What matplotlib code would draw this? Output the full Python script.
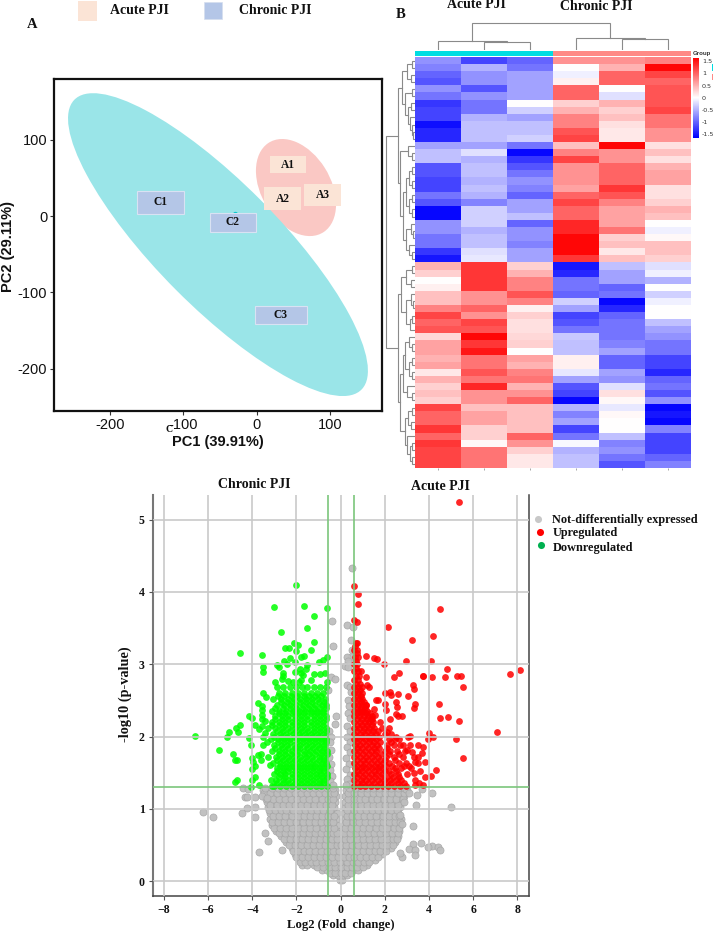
import numpy as np
import matplotlib
matplotlib.use("Agg")
import matplotlib.pyplot as plt
from matplotlib.colors import LinearSegmentedColormap
from matplotlib.patches import Ellipse, Rectangle
from matplotlib.ticker import FuncFormatter

W, H = 713, 932
SERIF = "Liberation Serif"
SANS = "Liberation Sans"

# ---- PCA data
pca_names = ["A1", "A2", "A3", "C1", "C2", "C3"]
pca_pc1 = [42, 36, 90, -132, -30, 32]
pca_pc2 = [68, 24, 30, 27, 3, -130]
pca_xticks = [-200, -100, 0, 100]
pca_yticks = [-200, -100, 0, 100]

# ---- heatmap values (rows top to bottom; Acute 1-3, Chronic 1-3)
heat_values = [
    [-0.7, -1.2, -1.0, 0.7, 0.7, 0.8], [-0.8, -0.5, -0.9, 0.0, 0.5, 1.6],
    [-1.0, -0.7, -0.6, -0.1, 1.0, 1.2], [-1.1, -0.7, -0.6, 0.1, 1.0, 1.0],
    [-0.7, -1.1, -0.6, 1.0, 0.0, 1.1], [-0.9, -0.7, -0.6, 1.0, -0.2, 1.1],
    [-1.3, -0.9, 0.0, 0.3, 0.5, 1.1], [-1.2, -0.9, -0.3, 0.5, 0.3, 1.2],
    [-1.2, -0.5, -0.6, 0.8, 0.4, 0.9], [-1.55, -0.4, -0.4, 0.8, 0.2, 0.9],
    [-1.4, -0.4, -0.4, 1.1, 0.15, 0.7], [-1.4, -0.4, -0.3, 1.2, 0.15, 0.7],
    [-0.6, -0.6, -0.9, 0.4, 1.6, 0.2], [-0.4, -0.2, -1.6, 0.8, 0.7, 0.4],
    [-0.4, -0.5, -1.3, 1.2, 0.7, 0.2], [-1.1, -0.4, -1.1, 0.7, 1.0, 0.5],
    [-1.1, -0.4, -0.9, 0.7, 1.0, 0.6], [-1.2, -0.5, -0.7, 0.7, 1.0, 0.6],
    [-1.2, -0.4, -0.8, 0.6, 1.3, 0.2], [-0.9, -0.5, -1.0, 1.0, 1.1, 0.2],
    [-1.1, -0.8, -0.6, 1.2, 0.8, 0.3], [-1.6, -0.3, -0.6, 1.0, 0.6, 0.5],
    [-1.6, -0.3, -0.4, 1.0, 0.6, 0.4], [-0.7, -0.3, -1.0, 1.4, 0.6, 0.0],
    [-0.7, -0.5, -0.7, 1.4, 0.9, -0.1], [-0.9, -0.4, -0.7, 1.6, 0.3, 0.05],
    [-0.9, -0.4, -0.8, 1.6, 0.4, 0.4], [-1.3, -0.2, -0.6, 1.6, 0.15, 0.4],
    [-1.5, -0.15, -0.6, 1.3, 0.4, 0.3],
    [0.5, 1.3, 0.3, -1.5, -0.4, -0.2], [0.3, 1.3, 0.5, -1.4, -0.6, -0.1],
    [0.0, 1.3, 0.8, -0.9, -0.6, -0.5], [0.1, 1.3, 0.8, -0.9, -1.0, 0.0],
    [0.4, 0.7, 1.1, -1.0, -0.9, -0.3], [0.4, 0.7, 0.8, -0.3, -1.6, -0.1],
    [0.8, 1.0, 0.1, -0.6, -1.4, 0.0], [1.2, 0.7, 0.3, -1.2, -1.0, 0.0],
    [1.0, 1.2, 0.2, -1.1, -0.9, -0.4], [1.1, 1.1, 0.2, -0.9, -0.9, -0.6],
    [0.25, 1.6, 0.25, -0.35, -0.9, -0.7], [0.6, 1.3, 0.3, -0.4, -0.8, -0.9],
    [0.6, 1.5, 0.0, -0.4, -0.6, -0.9], [0.5, 0.9, 0.6, 0.1, -1.0, -1.2],
    [0.6, 0.9, 0.5, 0.1, -1.0, -1.2], [0.15, 1.1, 0.8, -0.15, -0.6, -1.4],
    [0.5, 0.9, 0.9, -0.6, -0.7, -1.0], [0.3, 1.4, 0.5, -1.1, -0.2, -0.9],
    [0.4, 0.7, 0.7, -1.2, 0.2, -1.1], [0.3, 0.7, 1.0, -1.6, 0.05, -0.7],
    [1.2, 0.4, 0.4, -0.5, -0.15, -1.6], [1.0, 0.6, 0.4, -0.8, 0.05, -1.5],
    [1.0, 0.6, 0.4, -0.6, 0.0, -1.6], [1.3, 0.3, 0.4, -1.2, 0.0, -0.8],
    [1.0, 0.3, 1.0, -0.9, -0.4, -1.2], [1.3, 0.05, 0.7, -0.05, -0.8, -1.2],
    [1.2, 0.9, 0.3, -0.5, -0.7, -1.2], [1.2, 0.9, 0.15, -0.4, -0.9, -1.0],
    [1.2, 0.9, 0.15, -0.4, -1.1, -0.8],
]
heat_group_colors = ["#00DDE2", "#00DDE2", "#00DDE2", "#FF8A86", "#FF8A86", "#FF8A86"]
heat_cbar_ticks = [-1.5, -1, -0.5, 0, 0.5, 1, 1.5]
heat_cbar_labels = ["-1.5", "-1", "-0.5", "0", "0.5", "1", "1.5"]

# dendrograms: [merge height, left, right]; 0 is a leaf
col_tree = [27.3, [9.3, 0, [7.7, 0, 0]], [12.3, 0, [11, 0, 0]]]
row_tree = [29,
            [17,
             [13, [8, [3, 0, 0], [4, 0, 0]],
              [10, [3, 0, 0], [7, [4, 0, 0], [5, 0, [3, 0, [2, 0, 0]]]]]],
             [15, [7, 0, [3, 0, 0]],
              [12, [9, [6, [3, 0, 0], [3, 0, 0]], [6, [3, 0, 0], [3, 0, 0]]],
               [9, [4, 0, [2, 0, 0]], [6, 0, [3, 0, 0]]]]]],
            [17,
             [14, [9, [3, 0, 0], [4, 0, 0]],
              [9, [4, 0, [2, 0, 0]], [5, [3, 0, 0], 0]]],
             [15,
              [12, [10, [6, 0, [3, 0, 0]], [6, [3, 0, 0], [3, 0, 0]]],
               [8, 0, [3, 0, 0]]],
              [10, [7, [3, 0, 0], [4, 0, 0]],
               [8, 0, [5, [3, 0, 0], [3, 0, 0]]]]]]]

# ---- volcano data
vol_ticks_x = [-8, -6, -4, -2, 0, 2, 4, 6, 8]
vol_ticks_y = [0, 1, 2, 3, 4, 5]
fc_cut = 0.585
p_cut = 1.301

ns_levels = [0.02, 0.08, 0.15, 0.22, 0.30, 0.38, 0.46, 0.54, 0.62, 0.70, 0.78,
             0.86, 0.94, 1.02, 1.10, 1.18, 1.26]
ns_rows = [
    [-0.05, 0.06],
    [-0.33, -0.12, 0.1, 0.3],
    [-0.85, -0.6, -0.36, -0.14, 0.12, 0.35, 0.58, 0.78],
    [-1.75, -1.5, -1.22, -0.95, -0.7, -0.42, -0.17, 0.14, 0.4, 0.66, 0.92, 1.18],
    [-1.9, -1.62, -1.35, -1.08, -0.8, -0.55, -0.28, -0.05, 0.22, 0.48, 0.75, 1.02, 1.3, 1.55],
    [-2.08, -1.82, -1.55, -1.27, -1.0, -0.73, -0.46, -0.2, 0.08, 0.34, 0.6, 0.88, 1.15, 1.42, 1.68, 1.88],
    [-2.2, -1.93, -1.66, -1.4, -1.12, -0.85, -0.58, -0.32, -0.11, 0.13, 0.42, 0.7, 0.97, 1.25, 1.52, 1.8, 2.06, 2.28],
    [-2.46, -2.18, -1.9, -1.62, -1.35, -1.08, -0.8, -0.54, -0.28, -0.1, 0.11, 0.36, 0.63, 0.9, 1.18, 1.45, 1.72, 2.0, 2.25, 2.48],
    [-2.68, -2.4, -2.12, -1.85, -1.57, -1.3, -1.02, -0.76, -0.48, -0.24, -0.09, 0.1, 0.28, 0.55, 0.82, 1.1, 1.38, 1.65, 1.92, 2.2, 2.45, 2.6],
    [-2.92, -2.65, -2.38, -2.1, -1.83, -1.55, -1.28, -1.0, -0.72, -0.46, -0.22, -0.1, 0.11, 0.3, 0.57, 0.85, 1.12, 1.4, 1.66, 1.93, 2.2, 2.47, 2.62],
    [-3.1, -2.82, -2.55, -2.28, -2.0, -1.72, -1.45, -1.18, -0.9, -0.62, -0.36, -0.15, 0.14, 0.36, 0.63, 0.9, 1.18, 1.45, 1.72, 2.0, 2.28, 2.55, 2.7],
    [-3.2, -2.95, -2.68, -2.4, -2.12, -1.85, -1.58, -1.3, -1.03, -0.75, -0.48, -0.2, 0.18, 0.44, 0.7, 0.98, 1.25, 1.52, 1.8, 2.07, 2.35, 2.6, 2.72],
    [-3.18, -2.9, -2.62, -2.35, -2.08, -1.8, -1.52, -1.25, -0.97, -0.7, -0.42, -0.18, 0.17, 0.38, 0.65, 0.92, 1.2, 1.47, 1.75, 2.02, 2.3, 2.58],
    [-3.3, -3.05, -2.78, -2.5, -2.22, -1.95, -1.68, -1.4, -1.12, -0.85, -0.58, -0.3, 0.2, 0.46, 0.74, 1.02, 1.3, 1.57, 1.85, 2.12, 2.4, 2.68],
    [-3.32, -3.0, -2.72, -2.44, -2.17, -1.9, -1.62, -1.35, -1.07, -0.8, -0.52, -0.26, 0.22, 0.5, 0.78, 1.05, 1.33, 1.6, 1.88, 2.15, 2.45, 2.78],
    [-3.4, -3.12, -2.85, -2.58, -2.3, -2.02, -1.75, -1.48, -1.2, -0.93, -0.65, -0.4, -0.2, 0.22, 0.44, 0.7, 0.98, 1.25, 1.52, 1.8, 2.08, 2.36, 2.64, 2.88],
    [-3.52, -3.25, -2.96, -2.68, -2.4, -2.13, -1.85, -1.57, -1.3, -1.02, -0.75, -0.48, -0.24, 0.24, 0.5, 0.78, 1.05, 1.33, 1.6, 1.88, 2.16, 2.44, 2.72, 3.0],
]
ns_mid_levels = [0.12, 0.19, 0.26, 0.34, 0.42, 0.50, 0.58, 0.66, 0.74, 0.82, 0.90,
                 0.98, 1.06, 1.14, 1.22, 1.29]
ns_mid_rows = [
    [-0.48, -0.24, 0.0, 0.22, 0.46],
    [-1.05, -0.78, -0.52, -0.27, 0.02, 0.27, 0.5, 0.75, 1.0],
    [-1.84, -1.62, -1.36, -1.1, -0.83, -0.56, -0.3, -0.04, 0.28, 0.54, 0.8, 1.06, 1.3],
    [-2.0, -1.75, -1.48, -1.2, -0.94, -0.67, -0.4, -0.14, 0.13, 0.36, 0.62, 0.88, 1.16, 1.43, 1.7],
    [-2.14, -1.94, -1.68, -1.42, -1.14, -0.88, -0.6, -0.34, -0.07, 0.2, 0.47, 0.74, 1.02, 1.28, 1.55, 1.8, 2.05],
    [-2.32, -2.05, -1.78, -1.52, -1.25, -0.98, -0.7, -0.45, -0.18, 0.0, 0.25, 0.5, 0.78, 1.05, 1.32, 1.58, 1.85, 2.12, 2.38],
    [-2.58, -2.3, -2.02, -1.75, -1.48, -1.2, -0.92, -0.65, -0.38, -0.18, 0.18, 0.44, 0.72, 1.0, 1.28, 1.55, 1.82, 2.1, 2.36, 2.55],
    [-2.8, -2.52, -2.25, -1.98, -1.7, -1.42, -1.15, -0.88, -0.6, -0.34, -0.16, 0.17, 0.42, 0.7, 0.97, 1.25, 1.52, 1.78, 2.06, 2.33, 2.58],
    [-3.02, -2.75, -2.48, -2.2, -1.92, -1.65, -1.38, -1.1, -0.82, -0.55, -0.28, 0.2, 0.48, 0.75, 1.02, 1.3, 1.58, 1.85, 2.12, 2.4, 2.64],
    [-3.12, -2.85, -2.58, -2.28, -2.0, -1.72, -1.45, -1.18, -0.9, -0.62, -0.35, 0.24, 0.56, 0.84, 1.1, 1.38, 1.65, 1.92, 2.2, 2.48, 2.7],
    [-3.05, -2.78, -2.5, -2.22, -1.95, -1.67, -1.4, -1.12, -0.85, -0.56, -0.3, 0.28, 0.53, 0.8, 1.07, 1.35, 1.62, 1.9, 2.17, 2.45, 2.66],
    [-3.25, -2.98, -2.72, -2.46, -2.15, -1.88, -1.6, -1.32, -1.05, -0.78, -0.5, 0.3, 0.6, 0.88, 1.15, 1.42, 1.7, 1.98, 2.26, 2.54],
    [-3.18, -2.88, -2.6, -2.32, -2.05, -1.78, -1.5, -1.22, -0.95, -0.68, -0.4, 0.32, 0.62, 0.9, 1.18, 1.45, 1.72, 2.0, 2.3, 2.6],
    [-3.36, -3.08, -2.8, -2.52, -2.24, -1.96, -1.7, -1.42, -1.14, -0.86, -0.58, -0.33, 0.34, 0.62, 0.88, 1.12, 1.4, 1.66, 1.94, 2.22, 2.5, 2.8],
    [-3.46, -3.18, -2.9, -2.62, -2.34, -2.06, -1.79, -1.52, -1.24, -0.96, -0.7, -0.43, -0.28, 0.34, 0.62, 0.9, 1.18, 1.46, 1.74, 2.02, 2.3, 2.58, 2.86],
    [-3.42, -3.12, -2.82, -2.54, -2.26, -1.98, -1.7, -1.44, -1.16, -0.88, -0.6, -0.36, 0.36, 0.64, 0.92, 1.2, 1.47, 1.74, 2.02, 2.3, 2.58, 2.86],
]
ns_points = [
    (-4.40, 1.29), (-4.2, 1.28), (-4.33, 1.16), (-4.22, 1.17), (-3.88, 1.16), (-3.57, 1.18), (-3.35, 1.15),
    (-6.21, 0.96), (-5.76, 0.89), (-4.45, 0.95), (-4.24, 1.01), (-3.89, 1.02), (-3.88, 0.89),
    (-3.44, 0.67), (-3.27, 0.56), (-3.68, 0.41), (-2.64, 0.43),
    (4.15, 1.22), (3.67, 1.28), (3.44, 1.19), (3.39, 1.06), (4.98, 1.03), (3.29, 0.76),
    (2.76, 0.79), (2.68, 0.92), (3.29, 0.51), (3.63, 0.53), (3.10, 0.44), (3.36, 0.43),
    (3.36, 0.36), (4.12, 0.49), (3.97, 0.48), (4.42, 0.47), (4.49, 0.43), (2.76, 0.34), (2.68, 0.39),
    (0.50, 4.33), (-0.41, 3.60), (0.27, 3.54), (0.57, 3.51), (-0.35, 3.25), (0.48, 3.33), (0.50, 3.2),
    (0.45, 3.1), (0.27, 3.1), (0.35, 3.05), (0.20, 2.97), (0.35, 2.96), (-0.44, 2.83), (-0.27, 2.79),
    (-0.56, 2.64), (0.27, 2.71), (0.42, 2.69), (0.35, 2.51), (-0.21, 2.28), (-0.27, 2.18),
    (0.45, 2.62), (0.38, 2.42), (0.33, 2.33), (0.42, 2.25), (0.3, 2.15), (0.43, 2.08), (0.28, 2.0),
    (0.42, 1.93), (0.27, 1.85), (0.43, 1.78), (0.26, 1.7), (0.4, 1.62), (0.25, 1.55), (0.42, 1.47),
    (0.28, 1.42), (0.4, 1.35), (0.25, 1.33),
    (-0.52, 2.08), (-0.44, 2.0), (-0.5, 1.92), (-0.42, 1.82), (-0.52, 1.72), (-0.43, 1.62),
    (-0.5, 1.54), (-0.41, 1.46), (-0.5, 1.38), (-0.35, 1.33),
    (2.95, 1.28), (3.1, 1.22), (2.85, 1.1),
]

up_levels = [1.32, 1.40, 1.48, 1.56, 1.64, 1.72, 1.80, 1.88, 1.96, 2.04, 2.12, 2.20, 2.28, 2.36, 2.44, 2.52, 2.60, 2.68, 2.78, 2.9, 3.0, 3.1, 3.2, 3.3]
up_rows = [
    [0.6, 0.86, 1.12, 1.38, 1.64, 1.9, 2.15, 2.42, 2.7, 2.95],
    [0.62, 0.9, 1.17, 1.44, 1.7, 1.97, 2.22, 2.5, 2.72],
    [0.6, 0.85, 1.1, 1.36, 1.62, 1.88, 2.3, 2.58, 3.02],
    [0.63, 0.9, 1.17, 1.42, 1.68, 1.93, 2.45, 2.75, 3.2],
    [0.6, 0.86, 1.12, 1.38, 1.63, 1.9, 2.2, 2.62, 2.98],
    [0.62, 0.88, 1.15, 1.42, 1.68, 2.05, 2.4, 2.8, 3.3],
    [0.6, 0.85, 1.1, 1.36, 1.62, 2.0, 2.25, 2.55, 2.9],
    [0.63, 0.88, 1.14, 1.4, 1.63, 2.12, 2.4, 2.7, 3.15],
    [0.6, 0.84, 1.1, 1.34, 1.58, 2.2, 2.45, 2.66],
    [0.62, 0.87, 1.12, 1.36, 1.6, 2.02, 2.3],
    [0.6, 0.84, 1.08, 1.3, 1.52, 1.85, 2.2],
    [0.62, 0.86, 1.1, 1.3, 1.48, 1.8],
    [0.6, 0.84, 1.05, 1.25, 1.44],
    [0.62, 0.83, 1.02, 1.2],
    [0.6, 0.8, 0.98, 1.16],
    [0.62, 0.82, 0.98],
    [0.6, 0.78, 0.96],
    [0.62, 0.8, 0.95],
    [0.6, 0.78],
    [0.62, 0.78, 0.9],
    [0.6, 0.74],
    [0.65, 0.78],
    [0.62, 0.72],
    [0.68, 0.76],
]
up_mid_levels = [1.36, 1.44, 1.52, 1.60, 1.68, 1.76, 1.84, 1.92, 2.0, 2.08, 2.16, 2.24, 2.32, 2.40, 2.48, 2.56, 2.64, 2.73, 2.84, 2.95, 3.05, 3.15, 3.25]
up_mid_rows = [
    [0.72, 0.98, 1.25, 1.5, 1.77, 2.03, 2.3, 2.58, 2.85],
    [0.74, 1.02, 1.3, 1.56, 1.83, 2.1, 2.36, 2.64],
    [0.72, 0.97, 1.23, 1.49, 1.75, 2.0, 2.18, 2.5],
    [0.76, 1.03, 1.3, 1.55, 1.8, 2.05, 2.32, 2.88],
    [0.73, 0.99, 1.25, 1.5, 1.76, 2.02, 2.48],
    [0.75, 1.01, 1.28, 1.54, 1.82, 2.2, 2.66],
    [0.72, 0.97, 1.23, 1.49, 1.74, 2.12],
    [0.75, 1.01, 1.27, 1.52, 1.8, 2.28],
    [0.72, 0.97, 1.22, 1.46, 1.72, 2.52],
    [0.74, 0.99, 1.24, 1.48, 1.7],
    [0.72, 0.96, 1.2, 1.41],
    [0.74, 0.98, 1.2, 1.38],
    [0.72, 0.94, 1.15, 1.34],
    [0.72, 0.92, 1.1],
    [0.7, 0.9, 1.06],
    [0.72, 0.9],
    [0.7, 0.86],
    [0.7, 0.88],
    [0.7, 0.84],
    [0.7],
    [0.68],
    [0.72],
    [0.66],
]
up_points = [
    (5.35, 5.25), (0.60, 4.08), (0.78, 3.97), (0.77, 3.83), (0.59, 3.61), (0.74, 3.59), (2.13, 3.52),
    (3.23, 3.33), (1.16, 3.12), (1.51, 3.09), (1.63, 3.07), (2.97, 3.05), (1.96, 3.0), (2.64, 2.88),
    (2.43, 2.83), (3.74, 2.84), (1.16, 2.83), (3.29, 2.72), (3.33, 2.66), (1.21, 2.71), (1.3, 2.68),
    (3.03, 2.56), (2.59, 2.59), (2.0, 2.6), (2.23, 2.62), (2.26, 2.57), (2.49, 2.48), (1.6, 2.5),
    (1.67, 2.5), (3.36, 2.45), (3.33, 2.4), (2.02, 2.45), (2.05, 2.37), (2.56, 2.41), (1.13, 2.44),
    (1.51, 2.38), (2.5, 2.31), (2.61, 2.28), (2.76, 2.29), (1.55, 2.3), (1.03, 2.35), (1.4, 2.24),
    (4.49, 3.77), (4.16, 3.39), (4.09, 3.04), (3.72, 2.84), (4.15, 2.83), (4.73, 2.83), (4.81, 2.93),
    (5.26, 2.84), (5.43, 2.84), (5.53, 2.68), (7.66, 2.87), (8.11, 2.92), (4.45, 2.45), (4.49, 2.25),
    (4.88, 2.27), (5.35, 2.21), (7.06, 2.06), (5.55, 1.70), (5.20, 1.97), (4.0, 2.05), (3.97, 1.96),
    (4.19, 1.99), (4.33, 1.54), (4.09, 1.46), (2.23, 2.24), (2.08, 2.07), (2.84, 1.88), (3.14, 2.01),
    (3.05, 2.0), (3.51, 1.88), (3.74, 1.86), (3.0, 1.82), (3.21, 1.79), (3.67, 1.77), (3.51, 1.72),
    (3.82, 1.65), (3.51, 1.63), (3.59, 1.52), (3.82, 1.44), (3.36, 1.40), (3.74, 1.33), (3.36, 1.33),
    (3.55, 1.36), (3.1, 1.6), (3.35, 1.65), (3.3, 1.5),
]

down_levels = [1.32, 1.40, 1.48, 1.56, 1.64, 1.72, 1.80, 1.88, 1.96, 2.04, 2.12, 2.20, 2.28, 2.36, 2.44, 2.52, 2.60, 2.68]
down_rows = [
    [-3.02, -2.74, -2.47, -2.2, -1.93, -1.66, -1.39, -1.12, -0.87, -0.63],
    [-2.92, -2.63, -2.36, -2.08, -1.8, -1.53, -1.26, -0.99, -0.74],
    [-3.0, -2.75, -2.5, -2.22, -1.94, -1.67, -1.4, -1.13, -0.87, -0.63],
    [-2.9, -2.62, -2.35, -2.08, -1.8, -1.54, -1.27, -1.0, -0.73],
    [-3.05, -2.76, -2.48, -2.2, -1.93, -1.66, -1.4, -1.12, -0.86, -0.64],
    [-2.94, -2.65, -2.37, -2.1, -1.82, -1.55, -1.28, -1.0, -0.74],
    [-3.1, -2.8, -2.5, -2.22, -1.95, -1.68, -1.4, -1.13, -0.86, -0.62],
    [-3.0, -2.7, -2.42, -2.13, -1.85, -1.58, -1.3, -1.02, -0.76],
    [-3.15, -2.85, -2.56, -2.27, -1.98, -1.7, -1.42, -1.15, -0.88, -0.64],
    [-3.05, -2.74, -2.45, -2.17, -1.88, -1.6, -1.33, -1.05, -0.78],
    [-3.28, -2.95, -2.66, -2.36, -2.08, -1.8, -1.5, -1.22, -0.95, -0.66],
    [-3.1, -2.8, -2.5, -2.22, -1.92, -1.65, -1.36, -1.08, -0.8],
    [-2.95, -2.65, -2.36, -2.08, -1.8, -1.5, -1.22, -0.95, -0.66],
    [-3.1, -2.8, -2.47, -2.15, -1.9, -1.62, -1.35, -1.08, -0.8],
    [-2.9, -2.55, -2.28, -2.0, -1.72, -1.45, -1.15, -0.86, -0.64],
    [-3.05, -2.68, -2.4, -2.1, -1.82, -1.55, -1.3, -1.02, -0.72],
    [-2.78, -2.5, -2.22, -1.92, -1.65, -1.36, -1.08, -0.82],
    [-2.86, -2.6, -2.3, -2.02, -1.76, -1.5, -1.2, -0.95, -0.68],
]
down_mid_levels = [1.36, 1.44, 1.52, 1.60, 1.68, 1.76, 1.84, 1.92, 2.0, 2.08, 2.16, 2.24, 2.32, 2.40, 2.48, 2.56]
down_mid_rows = [
    [-2.86, -2.6, -2.33, -2.06, -1.8, -1.52, -1.26, -1.0, -0.75],
    [-2.78, -2.5, -2.22, -1.94, -1.67, -1.4, -1.12, -0.86, -0.63],
    [-2.88, -2.62, -2.36, -2.08, -1.8, -1.53, -1.26, -1.0, -0.75],
    [-2.76, -2.48, -2.22, -1.94, -1.67, -1.4, -1.14, -0.87, -0.63],
    [-2.9, -2.62, -2.34, -2.06, -1.8, -1.53, -1.26, -0.99, -0.74],
    [-2.8, -2.5, -2.23, -1.96, -1.68, -1.42, -1.14, -0.87, -0.63],
    [-2.95, -2.65, -2.36, -2.08, -1.82, -1.54, -1.27, -1.0, -0.74],
    [-2.85, -2.56, -2.28, -1.99, -1.72, -1.44, -1.16, -0.89, -0.64],
    [-3.0, -2.7, -2.42, -2.12, -1.84, -1.56, -1.28, -1.02, -0.76],
    [-2.9, -2.6, -2.3, -2.02, -1.74, -1.46, -1.19, -0.92, -0.65],
    [-3.12, -2.8, -2.5, -2.22, -1.94, -1.65, -1.36, -1.08, -0.8],
    [-2.95, -2.65, -2.36, -2.06, -1.78, -1.5, -1.22, -0.94, -0.68],
    [-2.8, -2.5, -2.22, -1.94, -1.65, -1.36, -1.08, -0.82],
    [-2.95, -2.62, -2.3, -2.02, -1.76, -1.48, -1.2, -0.94, -0.68],
    [-2.72, -2.42, -2.14, -1.86, -1.58, -1.3, -1.0, -0.76],
    [-2.85, -2.55, -2.25, -1.96, -1.68, -1.42, -1.16, -0.88],
]
down_points = [
    (-2.04, 4.10), (-3.03, 3.79), (-1.64, 3.80), (-0.60, 3.78), (-1.21, 3.67), (-1.52, 3.50), (-2.70, 3.45),
    (-1.19, 3.31), (-2.13, 3.29), (-1.95, 3.27), (-2.50, 3.23), (-2.32, 3.22), (-2.0, 3.18), (-1.33, 3.20),
    (-4.57, 3.16), (-3.56, 3.13), (-1.67, 3.11), (-1.78, 3.10), (-0.62, 3.10), (-0.81, 3.06), (-0.99, 3.03),
    (-2.29, 3.08), (-2.55, 3.04), (-2.07, 3.03), (-3.5, 2.96), (-3.53, 2.89), (-2.9, 2.99), (-2.8, 2.96),
    (-2.43, 3.01), (-1.54, 2.99), (-1.57, 2.94), (-1.86, 2.93), (-2.08, 2.89), (-1.81, 2.88), (-1.69, 2.85),
    (-1.19, 2.87), (-0.94, 2.86), (-0.69, 2.88), (-2.59, 2.88), (-2.62, 2.84), (-2.4, 2.77), (-2.67, 2.80),
    (-2.99, 2.76), (-1.36, 2.78), (-1.78, 2.78), (-1.9, 2.75), (-2.14, 2.75), (-0.6, 2.75),
    (-3.5, 2.6), (-3.38, 2.55), (-3.72, 2.47), (-3.58, 2.42), (-3.55, 2.3), (-3.55, 2.24), (-4.0, 2.25),
    (-6.59, 2.01), (-5.5, 1.81), (-5.13, 2.0), (-5.04, 2.06), (-4.74, 2.12), (-4.63, 2.07), (-4.54, 2.16),
    (-4.15, 2.29), (-4.86, 1.76), (-4.78, 1.68), (-4.68, 1.67), (-4.71, 1.4), (-4.78, 1.37), (-4.13, 1.98),
    (-4.07, 1.88), (-4.03, 1.71), (-3.95, 1.65), (-3.88, 1.6), (-4.0, 1.55), (-3.88, 1.44), (-4.03, 1.4),
    (-4.07, 1.3), (-3.68, 1.33), (-3.73, 1.75), (-3.62, 1.76), (-3.88, 2.16), (-3.57, 2.15), (-3.57, 2.37),
    (-3.7, 2.1), (-3.2, 1.61), (-3.5, 1.88), (-3.17, 1.4), (-3.09, 1.32), (-3.4, 2.05), (-3.5, 2.0),
    (-3.6, 1.68), (-3.3, 1.72), (-3.35, 1.92), (-3.4, 2.22),
]


def px_axes(fig, x0, y0, x1, y1):
    """Axes placed by reference pixel corners (top-left, bottom-right)."""
    return fig.add_axes([x0 / W, 1 - y1 / H, (x1 - x0) / W, (y1 - y0) / H])


def draw_tree(ax, node, counter, horizontal):
    if node == 0:
        pos = counter[0] + 0.5
        counter[0] += 1
        return pos, 0.0
    h, a, b = node
    pa, ha = draw_tree(ax, a, counter, horizontal)
    pb, hb = draw_tree(ax, b, counter, horizontal)
    xs, ys = [pa, pa, pb, pb], [ha, h, h, hb]
    if horizontal:
        ax.plot(xs, ys, color="#8A8A8A", lw=0.8, solid_joinstyle="miter")
    else:
        ax.plot(ys, xs, color="#8A8A8A", lw=0.8, solid_joinstyle="miter")
    return (pa + pb) / 2, h


def flatten(level_sets, points):
    xs, ys = [], []
    for levels, rows in level_sets:
        for lev, row in zip(levels, rows):
            xs.extend(row)
            ys.extend([lev] * len(row))
    for x, y in points:
        xs.append(x)
        ys.append(y)
    return xs, ys


fig = plt.figure(figsize=(W / 100, H / 100), dpi=100)
fig.patch.set_facecolor("white")

# ===== Panel A : PCA
ax = px_axes(fig, 54.3, 78.7, 382.3, 410.7)
ax.set_xlim(-276.5, 171.6)
ax.set_ylim(-255, 180)
ax.add_patch(Ellipse((-52.9, -37.4), 546, 165, angle=-43.9, color="#9AE5E8", lw=0, zorder=2))
ax.add_patch(Ellipse((53.7, 37.4), 139, 94, angle=-56.8, color="#FAC8C4", lw=0, zorder=1))
ax.scatter(pca_pc1, pca_pc2, s=8, color="#00C5C9", zorder=2.5)
ax.set_xticks(pca_xticks)
ax.set_yticks(pca_yticks)
ax.tick_params(length=3, width=0.8, labelsize=10.5, pad=2, color="#333333")
ax.xaxis.set_major_formatter(FuncFormatter(lambda v, _: f"{int(v)}"))
ax.yaxis.set_major_formatter(FuncFormatter(lambda v, _: f"{int(v)}"))
for lab in ax.get_xticklabels() + ax.get_yticklabels():
    lab.set_fontfamily(SANS)
    lab.set_color("#111111")
for s in ax.spines.values():
    s.set_linewidth(1.6)
    s.set_color("#111111")

# ===== Panel B : heatmap
cmap = LinearSegmentedColormap.from_list("bwr2", ["#0000FF", "#FFFFFF", "#FF0000"])
hax = px_axes(fig, 414.7, 57.3, 690.5, 467.7)
im = hax.imshow(np.array(heat_values), cmap=cmap, vmin=-1.65, vmax=1.65, aspect="auto",
                interpolation="nearest")
hax.set_yticks([])
hax.set_xticks(range(6))
hax.set_xticklabels([])
hax.tick_params(axis="x", length=1.2, width=0.6, color="#999999")
for s in hax.spines.values():
    s.set_visible(False)

gax = px_axes(fig, 414.7, 50.7, 690.5, 56)
for i, c in enumerate(heat_group_colors):
    gax.bar(i + 0.5, 1, width=1, color=c, lw=0)
gax.set_xlim(0, 6)
gax.set_ylim(0, 1)
gax.axis("off")

dt = px_axes(fig, 414.7, 22.0, 690.5, 50.0)
draw_tree(dt, col_tree, [0], True)
dt.set_xlim(0, 6)
dt.set_ylim(0, 28)
dt.axis("off")

dl = px_axes(fig, 384.7, 57.3, 414.7, 467.7)
draw_tree(dl, row_tree, [0], False)
dl.set_xlim(30, 0)
dl.set_ylim(len(heat_values), 0)
dl.axis("off")

cax = px_axes(fig, 693, 57.7, 699, 137.7)
cb = fig.colorbar(im, cax=cax)
cb.set_ticks(heat_cbar_ticks)
cb.set_ticklabels(heat_cbar_labels)
cb.ax.tick_params(length=0, labelsize=4.6, pad=2, labelcolor="#333333")
cb.outline.set_visible(False)

# ===== Panel C : volcano
vax = px_axes(fig, 153, 495, 528.7, 895.7)
vax.set_xlim(-8.49, 8.51)
vax.set_ylim(-0.2, 5.34)
nx, ny = flatten([(ns_levels, ns_rows), (ns_mid_levels, ns_mid_rows)], ns_points)
ux, uy = flatten([(up_levels, up_rows), (up_mid_levels, up_mid_rows)], up_points)
dx, dy = flatten([(down_levels, down_rows), (down_mid_levels, down_mid_rows)], down_points)
vax.scatter(nx, ny, s=26, facecolor="#BEBEBE", edgecolor="#A6A6A6", linewidth=0.5, alpha=0.95, zorder=1)
vax.scatter(ux, uy, s=24, color="#FF0000", alpha=0.85, linewidth=0, zorder=1.1)
vax.scatter(dx, dy, s=24, color="#00FF00", alpha=0.85, linewidth=0, zorder=1.1)
vax.set_xticks(vol_ticks_x)
vax.set_yticks(vol_ticks_y)
vax.grid(True, color="#C9C9C9", lw=1.2, zorder=2)
vax.set_axisbelow(False)
vax.axvline(-fc_cut, color="#7CC67C", lw=1.2, zorder=3)
vax.axvline(fc_cut, color="#7CC67C", lw=1.2, zorder=3)
vax.axhline(p_cut, color="#7CC67C", lw=1.2, zorder=3)
vax.spines["top"].set_visible(False)
vax.spines["left"].set_color("#777777")
vax.spines["left"].set_linewidth(1.5)
vax.spines["bottom"].set_color("#444444")
vax.spines["bottom"].set_linewidth(1.1)
vax.spines["right"].set_color("#444444")
vax.spines["right"].set_linewidth(1.1)
vax.tick_params(length=3, width=0.8, color="#555555", pad=3, grid_color="#C9C9C9", grid_linewidth=1.2)
for lab in vax.get_xticklabels() + vax.get_yticklabels():
    lab.set_fontfamily(SERIF)
    lab.set_fontweight("bold")
    lab.set_fontsize(8.5)
    lab.set_color("#111111")

# ===== overlay annotations, in reference pixel coordinates
ov = fig.add_axes([0, 0, 1, 1], zorder=10)
ov.set_xlim(0, W)
ov.set_ylim(H, 0)
ov.axis("off")
ov.patch.set_alpha(0)


def label(x, y, s, size=10, rotation=0, family=SERIF, weight="bold", color="#111111", ha="center"):
    ov.text(x, y, s, fontsize=size, fontfamily=family, fontweight=weight, ha=ha, va="center",
            rotation=rotation, color=color)


PEACH, BLUE = "#FBE4D6", "#B4C6E7"
ov.add_patch(Rectangle((78, 1), 19, 20, fc=PEACH, ec="none"))
ov.add_patch(Rectangle((203.5, 1.5), 18.5, 17.5, fc=BLUE, ec="#D5DEEF", lw=0.5))
label(110.5, 10, "Acute PJI", ha="left")
label(239, 10, "Chronic PJI", ha="left")
label(32.5, 24, "A", 10.5)
label(401, 14, "B", 10.5)
label(476, 5, "Acute PJI")
label(596, 6, "Chronic PJI")

boxes = {"A1": (270, 156, 36, 17, PEACH), "A2": (264, 187, 37, 23, PEACH), "A3": (304, 184, 37, 22, PEACH),
         "C1": (137, 190.5, 46.5, 23, BLUE), "C2": (209.5, 213, 46, 18.5, BLUE), "C3": (254.5, 305.5, 52, 18.5, BLUE)}
for name in pca_names:
    x, y, w, h, c = boxes[name]
    ov.add_patch(Rectangle((x, y), w, h, fc=c, ec="#D9E2F3" if c == BLUE else "none", lw=0.8))
    label(x + w / 2, y + h / 2, name, 8.3)

label(218, 442, "PC1 (39.91%)", 10.5, family=SANS)
label(8, 246, "PC2 (29.11%)", 10.5, rotation=90, family=SANS)
label(169.5, 429, "C", 7)

label(692.5, 53.5, "Group", 4.4, family=SANS, color="#333333", ha="left")
ov.add_patch(Rectangle((712, 64), 1, 7, fc="#00DDE2", ec="none"))
ov.add_patch(Rectangle((712, 74), 1, 6, fc="#FF8A86", ec="none"))

label(254, 484, "Chronic PJI")
label(440, 486, "Acute PJI")
label(340.5, 925, "Log2 (Fold  change)", 9.1)
label(125, 694.5, "-log10 (p-value)", 10.3, rotation=90)

legend_names = ["Not-differentially expressed", "Upregulated", "Downregulated"]
legend_colors = ["#C8C8C8", "#FF0000", "#00B050"]
legend_dots = [(538.3, 518.7), (539.7, 531.7), (540.5, 545)]
legend_ys = [520, 533, 548]
for n, c, (bx, by), ty in zip(legend_names, legend_colors, legend_dots, legend_ys):
    ov.scatter([bx], [by], s=26, color=c, linewidth=0)
    label(552.3, ty, n, 8.8, ha="left")

fig.savefig("out.png", dpi=100)
